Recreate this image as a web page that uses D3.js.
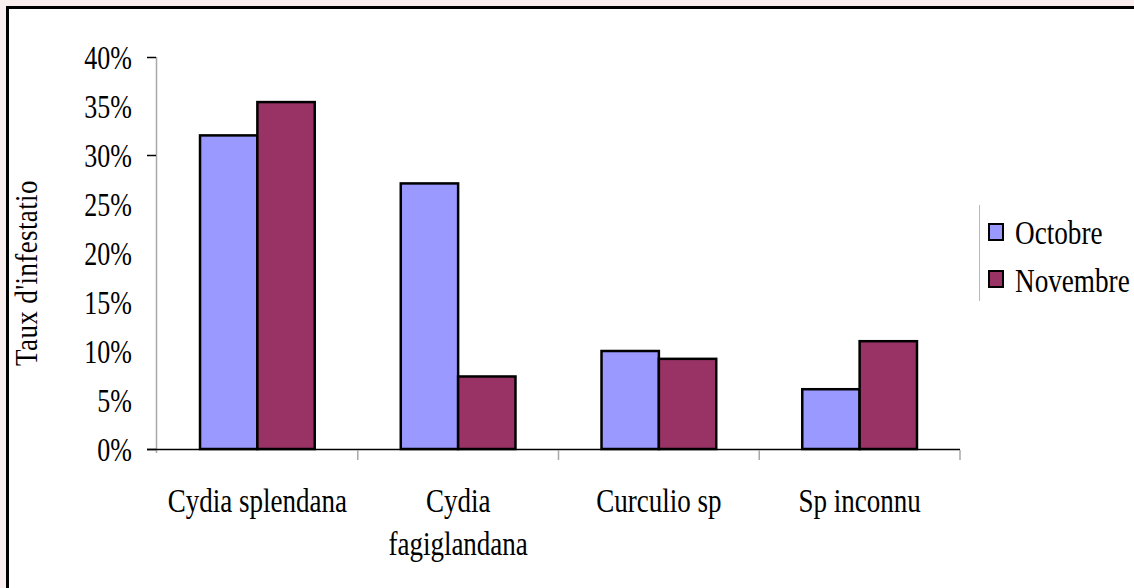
<!DOCTYPE html>
<html><head><meta charset="utf-8">
<script src="https://cdn.jsdelivr.net/npm/d3@7"></script>
<style>
html,body{margin:0;padding:0;background:#faeeee;}
svg{display:block;}
</style></head>
<body>
<script>
const categories = [["Cydia splendana"], ["Cydia", "fagiglandana"], ["Curculio sp"], ["Sp inconnu"]];
const seriesNames = ["Octobre", "Novembre"];
const octobre = [0.32, 0.271, 0.10, 0.061];
const novembre = [0.354, 0.074, 0.092, 0.110];
const yTicks = [0, 0.05, 0.10, 0.15, 0.20, 0.25, 0.30, 0.35, 0.40];
const yTickMarks = [0, 0.30, 0.40];
const colors = ["#9999ff", "#993366"];

const FONT = "'Liberation Serif', 'Times New Roman', Tinos, 'DejaVu Serif', serif";

const W = 1134, H = 588;
const svg = d3.select("body").append("svg").attr("width", W).attr("height", H)
  .attr("font-family", FONT).style("font-family", FONT);

// chart frame
svg.append("rect").attr("x", 7.5).attr("y", 7.5).attr("width", W + 10).attr("height", H + 10)
  .attr("fill", "#fff").attr("stroke", "#000").attr("stroke-width", 3);

const x0 = d3.scaleBand().domain(d3.range(categories.length)).range([157, 960]);
const y = d3.scaleLinear().domain([0, 0.40]).range([449, 57]);
const bw = x0.bandwidth() / 3.5;
const x1 = d3.scaleBand().domain([0, 1]).range([0.75 * bw, 2.75 * bw]);

function label(g, x, yy, anchor, fs, sy) {
  return g.append("text")
    .attr("transform", `translate(${x},${yy}) scale(1,${sy})`)
    .attr("text-anchor", anchor).attr("font-size", fs).attr("fill", "#000");
}

// bars
[octobre, novembre].forEach((vals, si) => {
  svg.append("g").selectAll("rect").data(vals).join("rect")
    .attr("x", (d, i) => x0(i) + x1(si))
    .attr("y", d => y(d))
    .attr("width", x1.bandwidth())
    .attr("height", d => y(0) - y(d))
    .attr("fill", colors[si])
    .attr("stroke", "#000").attr("stroke-width", 2.5);
});

// y axis
svg.append("line").attr("x1", 156.5).attr("x2", 156.5).attr("y1", y(0.40)).attr("y2", y(0) + 4)
  .attr("stroke", "#a8a8a8").attr("stroke-width", 1.5);
svg.append("g").selectAll("line").data(yTickMarks).join("line")
  .attr("x1", 147).attr("x2", 156).attr("y1", d => Math.round(y(d)) + 0.5).attr("y2", d => Math.round(y(d)) + 0.5)
  .attr("stroke", "#000").attr("stroke-width", 1.5);
const yl = svg.append("g");
yTicks.forEach(d => label(yl, 132, y(d) + 12, "end", 26, 1.3).text(d3.format(".0%")(d)));

// x axis
svg.append("line").attr("x1", 147).attr("x2", 960).attr("y1", 449.5).attr("y2", 449.5)
  .attr("stroke", "#000").attr("stroke-width", 1.5);
svg.append("g").selectAll("line").data(d3.range(1, categories.length + 1)).join("line")
  .attr("x1", i => x0.step() * i + 157).attr("x2", i => x0.step() * i + 157)
  .attr("y1", 450).attr("y2", 460).attr("stroke", "#a8a8a8").attr("stroke-width", 1.5);

const xg = svg.append("g");
categories.forEach((lines, i) => {
  lines.forEach((t, j) => label(xg, x0(i) + x0.bandwidth() / 2, 512 + j * 43, "middle", 27, 1.25).text(t));
});

// y title (clipped at top)
svg.append("clipPath").attr("id", "tclip").append("rect")
  .attr("x", 0).attr("y", 181).attr("width", 80).attr("height", 250);
svg.append("g").attr("clip-path", "url(#tclip)")
  .append("text")
  .attr("transform", `translate(37,366) rotate(-90) scale(1,1.2)`)
  .attr("font-size", 27).attr("letter-spacing", 0.4).attr("text-anchor", "start").attr("fill", "#000")
  .text("Taux d'infestation");

// legend
svg.append("line").attr("x1", 979.5).attr("x2", 979.5).attr("y1", 205).attr("y2", 301)
  .attr("stroke", "#b8b8b8").attr("stroke-width", 1);
const lg = svg.append("g");
seriesNames.forEach((n, i) => {
  lg.append("rect").attr("x", 989).attr("y", 224 + i * 47).attr("width", 14).attr("height", 16)
    .attr("fill", colors[i]).attr("stroke", "#000").attr("stroke-width", 2);
  label(lg, 1015, 244 + i * 48, "start", 27.2, 1.25).text(n);
});
</script>
</body></html>
